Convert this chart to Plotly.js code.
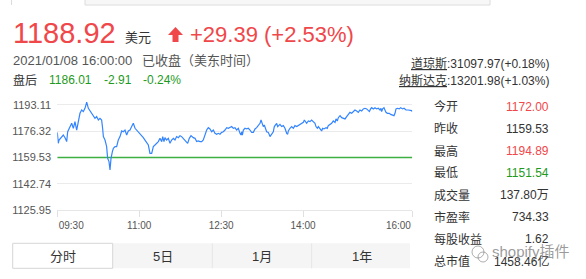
<!DOCTYPE html>
<html>
<head>
<meta charset="utf-8">
<script src="https://cdn.plot.ly/plotly-3.0.1.min.js"></script>
<style>
html,body{margin:0;padding:0;background:#fff;}
#chart{width:586px;height:279px;}
</style>
</head>
<body>
<div id="chart"></div>
<script>
// ---- data (minutes after 09:30, price in USD) ----
const minutes = [
0,1.1,1.9,4.8,6.6,8.5,10.3,11.4,14,15.8,17.6,19.4,21.3,23.1,24.9,26.8,28.6,30.4,32.3,34.1,35.9,37.7,39.6,41.4,43.2,45.1,46.9,48.7,49.8,50.6,52.4,54.2,55.3,56.8,57.9,59,60.5,61.6,63.4,65.2,67,68.9,70.7,72.5,74.4,76.2,78,79.9,81.7,83.5,85.4,87.2,89,90.9,92.7,94.5,96.3,
98.2,100,101.1,101.8,103.7,105.5,107.3,109.2,111,112.8,114.7,115.8,117.2,118.3,120.1,122,123.8,125.6,127.5,129.3,131.1,133,134.8,136.6,138.4,140.3,142.1,143.2,145,146.9,149.4,151.3,153.1,154.9,156.8,158.6,160.4,162.3,164.1,165.9,167.7,169.6,171.4,173.2,175.1,176.9,178.7,180.6,182.4,184.2,186.1,187.9,189.7,
191.6,193.4,195.2,197,198.9,200.7,201.8,202.5,203.3,204.4,206.2,208,209.9,211.7,213.5,215.4,217.2,219,220.8,222.7,223.8,225.2,226.3,227.4,228.9,230,231.8,233.7,234.8,236.2,237.3,238.4,239.9,241,242.1,243.5,244.6,246.5,248.3,250.1,251.2,252,253.1,253.8,255.6,257.5,259.3,261.1,263,264.8,266.6,268.4,270.3,271.4,272.8,273.9,275.8,277.6,279.4,
281.3,283.1,284.2,285.7,286.8,288.6,290.4,291.5,293,295.2,296.6,297.7,299.6,301.4,303.2,305.1,306.2,307.6,308.7,310.6,312.4,314.2,316.1,317.9,319.7,321.5,323.4,325.2,327,328.9,330.7,332.5,334.4,336.2,338,339.9,341.7,342.8,344.2,345.4,347.2,349,350.8,352.7,354.5,355.6,356.3,357.4,358.9,360,361.1,362.6,364.7,366.2,368.4,369.9,371,372.1,373.5,375.7,377.2,379.4,380.9,383.1,385.6,387.5,389.3,390
];
const prices = [
1175.6,1168.6,1170.7,1172.9,1173.9,1172.2,1169.7,1176.0,1179.3,1181.4,1178.2,1182.5,1177.1,1183.5,1187.8,1189.9,1188.9,1191.0,1194.89,1191.0,1189.3,1187.8,1185.7,1184.6,1185.7,1183.5,1184.6,1183.5,1178.2,1172.9,1170.7,1166.5,1159.0,1156.9,1151.54,1159.0,1163.3,1165.4,1166.5,1166.5,1170.7,1172.9,1176.5,1176.0,1177.1,1173.9,1176.5,1177.1,1179.3,1181.4,1178.2,1177.1,1176.0,1175.0,1173.9,1172.2,1170.7,
1168.6,1167.5,1164.3,1162.2,1162.2,1166.5,1167.5,1168.6,1169.7,1171.8,1169.7,1172.9,1169.7,1172.2,1170.7,1171.8,1168.6,1170.7,1171.8,1170.7,1172.9,1172.2,1173.5,1172.9,1171.8,1170.7,1169.7,1168.6,1171.8,1173.5,1172.2,1171.8,1169.7,1170.1,1169.7,1169.7,1170.7,1173.9,1177.1,1178.6,1177.8,1176.0,1177.1,1175.0,1174.4,1175.0,1174.4,1175.6,1176.0,1177.1,1178.6,1178.2,1178.6,
1179.3,1178.2,1178.6,1177.1,1178.2,1175.0,1173.9,1176.0,1173.9,1177.1,1178.2,1177.8,1178.2,1177.1,1175.6,1175.6,1177.8,1178.6,1179.9,1181.4,1183.5,1180.7,1179.3,1180.3,1177.1,1176.0,1175.6,1172.9,1173.9,1175.0,1176.0,1179.3,1180.7,1181.4,1179.3,1179.9,1180.7,1179.3,1179.9,1178.2,1176.0,1175.0,1174.4,1176.5,1178.2,1179.3,1178.2,1179.9,1179.3,1179.9,1180.7,1181.4,1182.0,1183.5,1182.5,1181.4,1182.9,1182.5,1183.5,
1182.5,1181.4,1179.3,1178.2,1179.3,1177.8,1176.5,1178.2,1177.8,1178.6,1178.2,1179.9,1180.7,1181.4,1182.9,1182.0,1184.2,1182.9,1185.0,1186.3,1185.0,1184.6,1184.2,1185.7,1187.1,1188.4,1187.8,1188.9,1189.9,1189.3,1188.4,1189.9,1189.3,1190.6,1191.0,1190.6,1189.9,1188.9,1190.6,1191.4,1190.6,1191.4,1190.6,1191.0,1189.9,1191.0,1188.9,1190.6,1191.4,1189.3,1188.4,1187.8,1187.8,1187.1,1186.7,1186.3,1187.8,1190.6,1191.0,1190.6,1191.4,1190.6,1191.0,1189.9,1189.9,1189.9,1189.5,1188.92
];
const prevClose = 1159.53;
const yTickVals = [1193.11, 1176.32, 1159.53, 1142.74, 1125.95];
const xTickVals = [0, 90, 180, 270, 390];
const xTickLabels = ['09:30', '11:00', '12:30', '14:00', '16:00'];

const lastPrice = '1188.92';
const change = '+29.39 (+2.53%)';
const timeText = '2021/01/08 16:00:00';
const statusText = '已收盘（美东时间）';
const afterLabel = '盘后';
const afterValues = ['1186.01', '-2.91', '-0.24%'];
const indexNames = ['道琼斯', '纳斯达克'];
const indexValues = [':31097.97(+0.18%)', ':13201.98(+1.03%)'];
const statLabels = ['今开', '昨收', '最高', '最低', '成交量', '市盈率', '每股收益', '总市值'];
const statValues = ['1172.00', '1159.53', '1194.89', '1151.54', '137.80万', '734.33', '1.62', '1458.46亿'];
const statKinds = ['up', 'flat', 'up', 'down', 'flat', 'flat', 'flat', 'flat'];
const tabLabels = ['分时', '5日', '1月', '1年'];

// ---- styling / layout helpers ----
const W = 586, H = 279;
const FONT = 'Liberation Sans, Arial, "Noto Sans CJK SC", sans-serif';
const RED = '#f0474a', GREEN = '#1e9a1e', DARK = '#333333', GRAY = '#555555';
const px = x => x / W;
const py = y => 1 - y / H;
const kindColor = {up: RED, down: GREEN, flat: DARK};

function ann(text, x, y, size, color, xanchor) {
  return {text: text, x: px(x), y: py(y), xref: 'paper', yref: 'paper',
    xanchor: xanchor || 'left', yanchor: 'middle', showarrow: false,
    borderpad: 0, font: {family: FONT, size: size, color: color}};
}

const annotations = [];
annotations.push(ann(lastPrice, 12, 33, 29, RED));
annotations.push(ann('美元', 124, 37, 13, DARK));
annotations.push(ann(change, 189, 34, 22, RED));
annotations.push(ann(timeText, 12, 61, 13, GRAY));
annotations.push(ann(statusText, 141, 61, 13, GRAY));
annotations.push(ann(afterLabel, 12, 80, 12, DARK));
const afterX = [48, 103, 142];
afterValues.forEach((v, i) => annotations.push(ann(v, afterX[i], 80, 12, GREEN)));
const idxY = [63, 81];
indexNames.forEach((n, i) => annotations.push(ann(
  '<span style="text-decoration:underline">' + n + '</span>' + indexValues[i], 550, idxY[i], 12, DARK, 'right')));
statLabels.forEach((l, i) => {
  const y = 107 + 22 * i;
  annotations.push(ann(l, 433, y, 12, DARK));
  annotations.push(ann(statValues[i], 550, y, 12, kindColor[statKinds[i]], 'right'));
});
const tabX = [62.7, 162.7, 262, 361.7];
tabLabels.forEach((t, i) => annotations.push(ann(t, tabX[i], 256, 13, DARK, 'center')));
annotations.push(ann('shopify插件', 491, 251, 15, 'rgba(110,110,110,0.7)'));

const shapes = [
  {type: 'rect', xref: 'paper', yref: 'paper', x0: px(85), x1: px(490), y0: py(5), y1: py(-5),
   fillcolor: '#f7f7f7', line: {color: '#dcdcdc', width: 1}},
  {type: 'line', xref: 'paper', yref: 'paper', x0: px(11.5), x1: px(11.5), y0: py(0), y1: py(5),
   line: {color: '#dcdcdc', width: 1}},
  {type: 'path', xref: 'paper', yref: 'paper',
   path: 'M' + px(175.5) + ',' + py(27) + ' L' + px(183) + ',' + py(35) + ' L' + px(178.5) + ',' + py(35) +
         ' L' + px(178.5) + ',' + py(42) + ' L' + px(172.5) + ',' + py(42) + ' L' + px(172.5) + ',' + py(35) +
         ' L' + px(168) + ',' + py(35) + ' Z',
   fillcolor: RED, line: {width: 0}},
  {type: 'rect', xref: 'paper', yref: 'paper', x0: px(112.7), x1: px(410), y0: py(268.3), y1: py(243.3),
   fillcolor: '#f5f5f5', line: {width: 0}},
  {type: 'rect', xref: 'paper', yref: 'paper', x0: px(12.7), x1: px(112.7), y0: py(268.3), y1: py(243.3),
   fillcolor: '#ffffff', line: {color: '#d6d6d6', width: 1}},
  {type: 'line', xref: 'paper', yref: 'paper', x0: px(212.3), x1: px(212.3), y0: py(268.3), y1: py(243.3),
   line: {color: '#e6e6e6', width: 1}},
  {type: 'line', xref: 'paper', yref: 'paper', x0: px(311.7), x1: px(311.7), y0: py(268.3), y1: py(243.3),
   line: {color: '#e6e6e6', width: 1}},
  {type: 'circle', xref: 'paper', yref: 'paper', x0: px(472), x1: px(484), y0: py(258), y1: py(246),
   line: {color: 'rgba(120,120,120,0.6)', width: 1}},
  {type: 'circle', xref: 'paper', yref: 'paper', x0: px(478), x1: px(488), y0: py(262), y1: py(252),
   line: {color: 'rgba(120,120,120,0.6)', width: 1}}
];

const pad = n => '\u00a0'.repeat(n);
const xTickText = xTickLabels.map((t, i) =>
  i === 0 ? pad(10) + t : (i === xTickLabels.length - 1 ? t + pad(10) : t));

const refTrace = {
  x: [xTickVals[0], xTickVals[xTickVals.length - 1]], y: [prevClose, prevClose],
  type: 'scatter', mode: 'lines', line: {color: '#3cb043', width: 1.5}, hoverinfo: 'skip'
};
const trace = {
  x: minutes, y: prices, type: 'scatter', mode: 'lines',
  line: {color: '#3385ff', width: 1.2}, hoverinfo: 'skip'
};

const yTop = 1200;
const layout = {
  width: W, height: H,
  margin: {l: 0, r: 0, t: 0, b: 0},
  paper_bgcolor: '#ffffff', plot_bgcolor: '#ffffff',
  showlegend: false,
  xaxis: {
    domain: [px(57.3), px(412.3)], range: [0, 390], anchor: 'y',
    tickmode: 'array', tickvals: xTickVals, ticktext: xTickText,
    showgrid: false, zeroline: false, showline: true, linecolor: '#e6e6e6', linewidth: 1,
    ticks: 'outside', ticklen: 6, tickcolor: '#e0e0e0', tickwidth: 1,
    tickfont: {family: FONT, size: 10, color: GRAY}, fixedrange: true
  },
  yaxis: {
    domain: [1 - 210 / H, 1 - (105 - (yTop - 1193.11) / 0.6396) / H],
    range: [1125.95, yTop], anchor: 'x',
    tickmode: 'array', tickvals: yTickVals, ticktext: yTickVals.map(v => v.toFixed(2)),
    showgrid: true, gridcolor: '#ebebeb', gridwidth: 1, zeroline: false, showline: false,
    ticks: 'outside', ticklen: 3, tickcolor: 'rgba(0,0,0,0)',
    tickfont: {family: FONT, size: 11, color: GRAY}, fixedrange: true
  },
  shapes: shapes,
  annotations: annotations
};

Plotly.newPlot('chart', [refTrace, trace], layout, {staticPlot: true, displayModeBar: false});
</script>
</body>
</html>
